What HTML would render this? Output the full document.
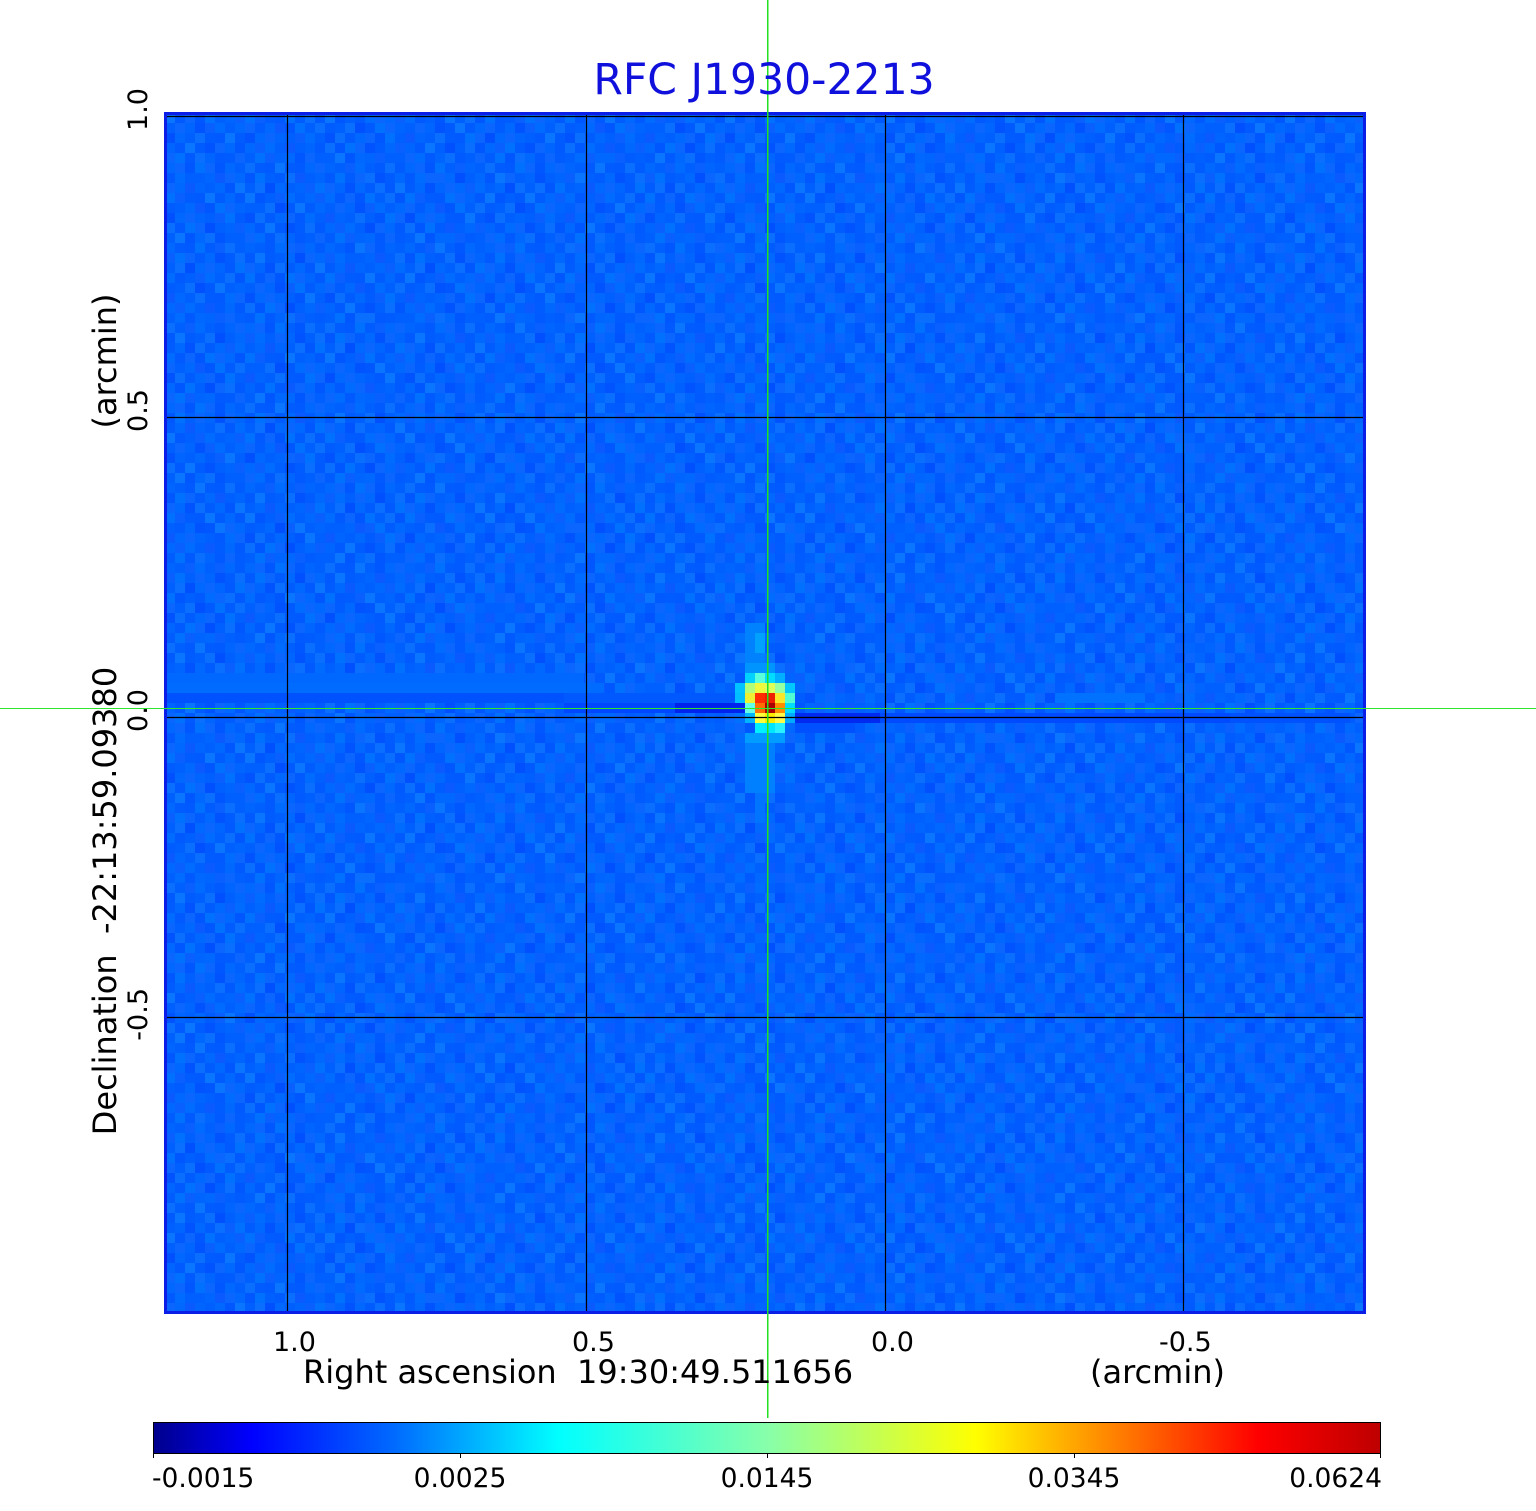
<!DOCTYPE html>
<html><head><meta charset="utf-8"><style>
html,body{margin:0;padding:0;background:#fff;}
svg{display:block;}
text{font-family:"DejaVu Sans","Liberation Sans",sans-serif;}
</style></head><body>
<svg width="1536" height="1511" viewBox="0 0 1536 1511" xmlns="http://www.w3.org/2000/svg">
<defs>
<pattern id="p1" x="5" y="3" width="80" height="80" patternUnits="userSpaceOnUse">
<rect x="0" y="0" width="10" height="10" fill="#0068ff"/><rect x="20" y="0" width="10" height="10" fill="#005aff"/><rect x="30" y="0" width="10" height="10" fill="#0070ff"/><rect x="50" y="0" width="10" height="10" fill="#005aff"/><rect x="60" y="0" width="10" height="10" fill="#0068ff"/>
<rect x="0" y="10" width="10" height="10" fill="#005aff"/><rect x="10" y="10" width="10" height="10" fill="#0070ff"/><rect x="40" y="10" width="10" height="10" fill="#0068ff"/><rect x="50" y="10" width="10" height="10" fill="#0053ff"/><rect x="70" y="10" width="10" height="10" fill="#0068ff"/>
<rect x="10" y="20" width="10" height="10" fill="#0068ff"/><rect x="20" y="20" width="10" height="10" fill="#0053ff"/><rect x="30" y="20" width="10" height="10" fill="#0068ff"/><rect x="50" y="20" width="10" height="10" fill="#0068ff"/><rect x="60" y="20" width="10" height="10" fill="#005aff"/><rect x="70" y="20" width="10" height="10" fill="#0070ff"/>
<rect x="0" y="30" width="10" height="10" fill="#0070ff"/><rect x="10" y="30" width="10" height="10" fill="#005aff"/><rect x="30" y="30" width="10" height="10" fill="#005aff"/><rect x="40" y="30" width="10" height="10" fill="#0070ff"/><rect x="60" y="30" width="10" height="10" fill="#0068ff"/><rect x="70" y="30" width="10" height="10" fill="#005aff"/>
<rect x="20" y="40" width="10" height="10" fill="#0068ff"/><rect x="30" y="40" width="10" height="10" fill="#0053ff"/><rect x="40" y="40" width="10" height="10" fill="#005aff"/><rect x="50" y="40" width="10" height="10" fill="#0070ff"/><rect x="70" y="40" width="10" height="10" fill="#0068ff"/>
<rect x="0" y="50" width="10" height="10" fill="#0053ff"/><rect x="10" y="50" width="10" height="10" fill="#0068ff"/><rect x="30" y="50" width="10" height="10" fill="#0068ff"/><rect x="50" y="50" width="10" height="10" fill="#005aff"/><rect x="60" y="50" width="10" height="10" fill="#0070ff"/>
<rect x="0" y="60" width="10" height="10" fill="#0068ff"/><rect x="10" y="60" width="10" height="10" fill="#005aff"/><rect x="20" y="60" width="10" height="10" fill="#0070ff"/><rect x="40" y="60" width="10" height="10" fill="#0053ff"/><rect x="60" y="60" width="10" height="10" fill="#0068ff"/><rect x="70" y="60" width="10" height="10" fill="#005aff"/>
<rect x="10" y="70" width="10" height="10" fill="#0070ff"/><rect x="20" y="70" width="10" height="10" fill="#005aff"/><rect x="30" y="70" width="10" height="10" fill="#0068ff"/><rect x="40" y="70" width="10" height="10" fill="#0068ff"/><rect x="50" y="70" width="10" height="10" fill="#005aff"/>
</pattern>
<pattern id="p2" x="5" y="3" width="70" height="70" patternUnits="userSpaceOnUse">
<g fill="#ffffff" fill-opacity="0.04">
<rect x="0" y="0" width="10" height="10"/><rect x="40" y="0" width="10" height="10"/>
<rect x="20" y="10" width="10" height="10"/><rect x="50" y="10" width="10" height="10"/>
<rect x="30" y="20" width="10" height="10"/><rect x="60" y="20" width="10" height="10"/>
<rect x="0" y="30" width="10" height="10"/><rect x="10" y="30" width="10" height="10"/>
<rect x="20" y="40" width="10" height="10"/><rect x="40" y="40" width="10" height="10"/>
<rect x="30" y="50" width="10" height="10"/><rect x="60" y="50" width="10" height="10"/>
<rect x="10" y="60" width="10" height="10"/><rect x="50" y="60" width="10" height="10"/>
</g>
<g fill="#0010ff" fill-opacity="0.05">
<rect x="20" y="0" width="10" height="10"/><rect x="50" y="0" width="10" height="10"/>
<rect x="10" y="10" width="10" height="10"/><rect x="60" y="10" width="10" height="10"/>
<rect x="0" y="20" width="10" height="10"/><rect x="40" y="20" width="10" height="10"/>
<rect x="30" y="30" width="10" height="10"/><rect x="60" y="30" width="10" height="10"/>
<rect x="10" y="40" width="10" height="10"/><rect x="50" y="40" width="10" height="10"/>
<rect x="0" y="50" width="10" height="10"/><rect x="40" y="50" width="10" height="10"/>
<rect x="20" y="60" width="10" height="10"/><rect x="60" y="60" width="10" height="10"/>
</g>
</pattern>
<linearGradient id="jet" x1="0" y1="0" x2="1" y2="0">
<stop offset="0" stop-color="rgb(0,0,140)"/>
<stop offset="0.08" stop-color="rgb(0,0,255)"/>
<stop offset="0.2" stop-color="rgb(0,110,255)"/>
<stop offset="0.33" stop-color="rgb(0,255,255)"/>
<stop offset="0.5" stop-color="rgb(135,255,170)"/>
<stop offset="0.67" stop-color="rgb(255,255,0)"/>
<stop offset="0.9" stop-color="rgb(255,0,0)"/>
<stop offset="1" stop-color="rgb(190,0,0)"/>
</linearGradient>
</defs>

<!-- image background -->
<rect x="164" y="112" width="1202" height="1202" fill="#0060ff"/>
<rect x="164" y="112" width="1202" height="1202" fill="url(#p1)"/>
<rect x="164" y="112" width="1202" height="1202" fill="url(#p2)"/>

<!-- streaks -->
<rect x="164" y="673" width="420" height="10" fill="#0068ff"/>
<rect x="164" y="683" width="440" height="10" fill="#006cff"/>
<rect x="164" y="693" width="400" height="10" fill="#0052ff"/>
<rect x="564" y="693" width="180" height="10" fill="#0058ff"/>
<rect x="564" y="703" width="116" height="10" fill="#0048ff"/>
<rect x="675" y="703" width="70" height="10" fill="#0024ee"/>
<rect x="795" y="713" width="85" height="10" fill="#002af0"/>
<rect x="880" y="713" width="350" height="10" fill="#004aff"/>
<rect x="1230" y="713" width="120" height="10" fill="#0052ff"/>
<rect x="1055" y="693" width="90" height="10" fill="#0072ff"/>
<rect x="795" y="723" width="60" height="10" fill="#0050ff"/>

<!-- vertical streak -->
<rect x="745" y="623" width="20" height="50" fill="#0082ff"/>
<rect x="755" y="633" width="10" height="20" fill="#00a0ff"/>
<rect x="745" y="663" width="30" height="10" fill="#0094ff"/>
<rect x="745" y="733" width="40" height="10" fill="#009cff"/>
<rect x="745" y="743" width="30" height="50" fill="#0080ff"/>
<rect x="755" y="793" width="10" height="30" fill="#0074ff"/>

<!-- source -->
<rect x="745" y="673" width="10" height="10" fill="rgb(0,210,255)"/>
<rect x="755" y="673" width="10" height="10" fill="rgb(90,255,220)"/>
<rect x="765" y="673" width="10" height="10" fill="rgb(0,220,255)"/>
<rect x="775" y="673" width="10" height="10" fill="rgb(0,175,255)"/>
<rect x="735" y="683" width="10" height="10" fill="rgb(0,195,255)"/>
<rect x="745" y="683" width="10" height="10" fill="rgb(180,255,120)"/>
<rect x="755" y="683" width="10" height="10" fill="rgb(240,250,60)"/>
<rect x="765" y="683" width="10" height="10" fill="rgb(220,255,90)"/>
<rect x="775" y="683" width="10" height="10" fill="rgb(150,255,160)"/>
<rect x="785" y="683" width="10" height="10" fill="rgb(0,200,255)"/>
<rect x="735" y="693" width="10" height="10" fill="rgb(0,190,255)"/>
<rect x="745" y="693" width="10" height="10" fill="rgb(240,240,50)"/>
<rect x="755" y="693" width="10" height="10" fill="rgb(255,45,0)"/>
<rect x="765" y="693" width="10" height="10" fill="rgb(240,30,0)"/>
<rect x="775" y="693" width="10" height="10" fill="rgb(250,230,40)"/>
<rect x="785" y="693" width="10" height="10" fill="rgb(80,255,210)"/>
<rect x="745" y="703" width="10" height="10" fill="rgb(100,255,230)"/>
<rect x="755" y="703" width="10" height="10" fill="rgb(255,110,0)"/>
<rect x="765" y="703" width="10" height="10" fill="rgb(170,0,0)"/>
<rect x="775" y="703" width="10" height="10" fill="rgb(255,140,0)"/>
<rect x="785" y="703" width="10" height="10" fill="rgb(0,220,255)"/>
<rect x="745" y="713" width="10" height="10" fill="rgb(0,180,255)"/>
<rect x="755" y="713" width="10" height="10" fill="rgb(255,255,60)"/>
<rect x="765" y="713" width="10" height="10" fill="rgb(255,235,0)"/>
<rect x="775" y="713" width="10" height="10" fill="rgb(255,250,70)"/>
<rect x="785" y="713" width="10" height="10" fill="rgb(0,170,255)"/>
<rect x="755" y="723" width="10" height="10" fill="rgb(0,240,255)"/>
<rect x="765" y="723" width="10" height="10" fill="rgb(0,230,255)"/>
<rect x="775" y="723" width="10" height="10" fill="rgb(40,240,255)"/>

<!-- grid lines -->
<g stroke="#000" stroke-width="1.2" fill="none">
<line x1="287.5" y1="113" x2="287.5" y2="1313"/>
<line x1="586.5" y1="113" x2="586.5" y2="1313"/>
<line x1="885.5" y1="113" x2="885.5" y2="1313"/>
<line x1="1183.5" y1="113" x2="1183.5" y2="1313"/>
<line x1="165" y1="116.5" x2="1365" y2="116.5"/>
<line x1="165" y1="417.5" x2="1365" y2="417.5"/>
<line x1="165" y1="717.5" x2="1365" y2="717.5"/>
<line x1="165" y1="1017.5" x2="1365" y2="1017.5"/>
</g>

<!-- border -->
<rect x="165.5" y="113.5" width="1199" height="1199" fill="none" stroke="#0a1ee8" stroke-width="3"/>

<!-- green crosshair -->
<rect x="767" y="0" width="1.3" height="1418" fill="#22e022" shape-rendering="crispEdges"/>
<line x1="0" y1="708.5" x2="1536" y2="708.5" stroke="#2ee82e" stroke-width="1"/>

<!-- title -->
<text x="764" y="94" font-size="42.5" fill="#1010dd" text-anchor="middle">RFC J1930-2213</text>

<!-- x ticks -->
<g font-size="27" fill="#000">
<text x="273" y="1351">1.0</text>
<text x="572" y="1351">0.5</text>
<text x="871" y="1351">0.0</text>
<text x="1159" y="1351">-0.5</text>
</g>
<text x="303" y="1383" font-size="32" fill="#000">Right ascension&#160; 19:30:49.511656</text>
<text x="1090" y="1383" font-size="32" fill="#000">(arcmin)</text>

<!-- y ticks -->
<g font-size="27" fill="#000" text-anchor="end">
<text transform="translate(147,88) rotate(-90)">1.0</text>
<text transform="translate(147,389) rotate(-90)">0.5</text>
<text transform="translate(147,689) rotate(-90)">0.0</text>
<text transform="translate(147,988) rotate(-90)">-0.5</text>
</g>
<text transform="translate(116,361) rotate(-90)" font-size="32" fill="#000" text-anchor="middle">(arcmin)</text>
<text transform="translate(116,901) rotate(-90)" font-size="32" fill="#000" text-anchor="middle">Declination&#160; -22:13:59.09380</text>

<!-- colorbar -->
<rect x="153.5" y="1422.5" width="1227" height="31" fill="url(#jet)" stroke="#000" stroke-width="1"/>
<g stroke="#000" stroke-width="1">
<line x1="153.5" y1="1453" x2="153.5" y2="1458"/>
<line x1="460.5" y1="1453" x2="460.5" y2="1458"/>
<line x1="767.5" y1="1453" x2="767.5" y2="1458"/>
<line x1="1074.5" y1="1453" x2="1074.5" y2="1458"/>
<line x1="1380.5" y1="1453" x2="1380.5" y2="1458"/>
</g>
<g font-size="26.5" fill="#000">
<text x="152" y="1487">-0.0015</text>
<text x="460" y="1487" text-anchor="middle">0.0025</text>
<text x="767" y="1487" text-anchor="middle">0.0145</text>
<text x="1074" y="1487" text-anchor="middle">0.0345</text>
<text x="1382" y="1487" text-anchor="end">0.0624</text>
</g>
</svg>
</body></html>
